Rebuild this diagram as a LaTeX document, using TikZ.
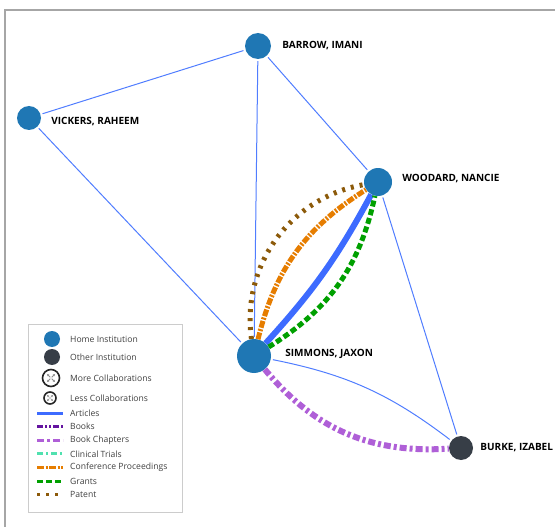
\documentclass[tikz,border=0pt]{standalone}
\usepackage{fontspec}
\setmainfont{Open Sans}
\usepackage{tikz}
\usetikzlibrary{positioning,arrows.meta}

\definecolor{HomeBlue}{RGB}{31,119,180}
\definecolor{OtherDark}{RGB}{55,62,71}
\definecolor{LinkBlue}{RGB}{80,125,255}
\definecolor{ArticleBlue}{RGB}{61,107,255}
\definecolor{BookPurple}{RGB}{100,20,160}
\definecolor{ChapterPurple}{RGB}{175,95,215}
\definecolor{TrialGreen}{RGB}{80,225,175}
\definecolor{ConfOrange}{RGB}{230,125,0}
\definecolor{GrantGreen}{RGB}{0,160,0}
\definecolor{PatentBrown}{RGB}{140,90,10}

\tikzset{
  home/.style={circle, fill=HomeBlue, inner sep=0pt},
  other/.style={circle, fill=OtherDark, inner sep=0pt},
  who/.style={inner sep=0pt, font=\bfseries\fontsize{10}{12}\selectfont},
  link/.style={LinkBlue, line width=1pt, shorten <=2pt, shorten >=2pt},
  articles/.style={ArticleBlue, line width=#1},
  books/.style={BookPurple, line width=#1, dash pattern=on 6pt off 2pt on 2pt off 2pt on 2pt off 2pt},
  chapters/.style={ChapterPurple, line width=#1, dash pattern=on 7pt off 3pt on 3pt off 3pt},
  trials/.style={TrialGreen, line width=#1, dash pattern=on 6pt off 3pt on 2pt off 3pt},
  conference/.style={ConfOrange, line width=#1, dash pattern=on 7pt off 1.5pt on 2pt off 1.5pt},
  grants/.style={GrantGreen, line width=#1, dash pattern=on 6pt off 3pt},
  patent/.style={PatentBrown, line width=#1, dash pattern=on 3pt off 6pt},
  keytext/.style={anchor=west, inner sep=0pt, text=black!75, font=\fontsize{8.6}{10}\selectfont},
  collab/.style={circle, draw=black!85, line width=1.6pt, fill=white, inner sep=0pt}
}

\begin{document}
\begin{tikzpicture}[x=1pt, y=-1pt]
    \useasboundingbox (0,0) rectangle (555,527);
    % frame
    \draw[black!35, line width=1.5pt] (5,527) -- (5,10) -- (555,10);

    % people
    \node[home, minimum size=26pt] (barrow) at (258,46) {};
    \node[home, minimum size=24pt] (vickers) at (29,118) {};
    \node[home, minimum size=28pt] (woodard) at (378,182) {};
    \node[home, minimum size=34pt] (simmons) at (254,356) {};
    \node[other, minimum size=24pt] (burke) at (461,448) {};

    \node[who, right=11pt of barrow] (barrowname) {BARROW, IMANI};
    \node[who, right=10pt of vickers, yshift=-4pt] (vickersname) {VICKERS, RAHEEM};
    \node[who, right=10pt of woodard, yshift=3pt] (woodardname) {WOODARD, NANCIE};
    \node[who, right=14pt of simmons, yshift=2pt] (simmonsname) {SIMMONS, JAXON};
    \node[who, right=7pt of burke] (burkename) {BURKE, IZABEL};

    % collaborations
    \draw[link] (vickers) -- (barrow);
    \draw[link] (vickers) -- (simmons);
    \draw[link] (barrow) -- (simmons);
    \draw[link] (barrow) -- (woodard);
    \draw[link] (woodard) -- (burke);
    \draw[link] (simmons) to[bend left=13] (burke);
    \draw[chapters=6pt] (simmons) to[bend right=27] (burke);
    \draw[patent=5pt] (simmons) to[bend left=44] (woodard);
    \draw[conference=5pt] (simmons) to[bend left=22] (woodard);
    \draw[articles=6pt] (simmons) to[bend right=7] (woodard);
    \draw[grants=5pt] (simmons) to[bend right=23] (woodard);

    % legend
    \draw[black!20, fill=white] (28,324) rectangle (182,512);
    \node[home, minimum size=16pt] (keyhome) at (52,339) {};
    \node[other, minimum size=16pt] (keyother) at (52,357) {};
    \node[collab, minimum size=17pt] (keymore) at (51,378) {};
    \node[collab, minimum size=12pt] (keyless) at (50,398) {};
    \foreach \a in {45,135,225,315} {
        \draw[black!45, line width=0.8pt, -{Stealth[length=2pt,width=2.4pt]}] (keymore.center) ++(\a:1pt) -- ++(\a:4.5pt);
        \draw[black!45, line width=0.6pt, -{Stealth[length=1.6pt,width=2pt]}] (keyless.center) ++(\a:0.8pt) -- ++(\a:3.2pt);
    }
    \node[keytext] at (70,339) {Home Institution};
    \node[keytext] at (70,357) {Other Institution};
    \node[keytext] at (70,378) {More Collaborations};
    \node[keytext] at (70,398) {Less Collaborations};
    \foreach \kind/\txt [count=\i] in {articles/Articles, books/Books, chapters/Book Chapters,
        trials/Clinical Trials, conference/Conference Proceedings, grants/Grants, patent/Patent} {
        \draw[\kind=3pt] (37,399.5+13.6*\i) -- (63,399.5+13.6*\i);
        \node[keytext] at (70,399.5+13.6*\i) {\txt};
    }
\end{tikzpicture}
\end{document}
